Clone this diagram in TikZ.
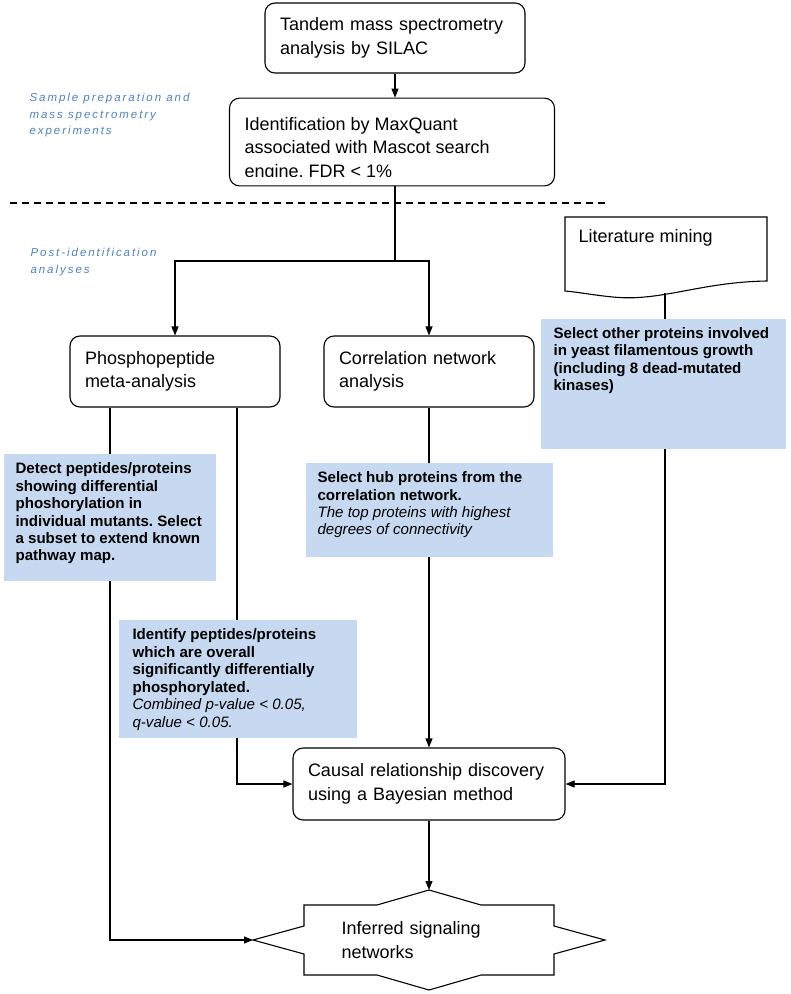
\documentclass[tikz,border=0pt]{standalone}
\usepackage{fontspec}
\setmainfont{Liberation Sans}
\usetikzlibrary{arrows.meta, calc}
\definecolor{BoxBlue}{HTML}{C6D9F1}
\definecolor{TagBlue}{HTML}{4F81BD}
\newcommand{\stepfnt}{\fontsize{18}{23.5}\selectfont}
\newcommand{\notefnt}{\fontsize{15.1}{17.5}\selectfont}
\newcommand{\tagfnt}{\fontsize{11.5}{16.5}\selectfont\itshape\addfontfeature{LetterSpace=17}}
\frenchspacing

\begin{document}
\begin{tikzpicture}[x=1pt, y=-1pt, line width=1.1pt,
    stepbox/.style={draw, rounded corners=10pt, inner xsep=15pt, align=left, font=\stepfnt},
    notebox/.style={fill=BoxBlue, anchor=north west, inner xsep=13pt, inner ysep=9pt, font=\notefnt},
    sectag/.style={text=TagBlue, font=\tagfnt, align=left, anchor=north west, inner sep=0pt},
    link/.style={-{Triangle[length=9pt, width=7pt]}}]
\useasboundingbox (0,0) rectangle (791,994);

% experiment part
\node[stepbox, text width=230pt, minimum height=70pt] (tandem) at (395,38) {Tandem mass spectrometry\\analysis by SILAC};
\node[stepbox, inner ysep=5pt] (ident) at (392,142) {\parbox[c][74pt][b]{295pt}{\raggedright Identification by MaxQuant\\associated with Mascot search\\engine. FDR < 1\%}};
% text cut by the box frame
\fill[white] ($(ident.south west)+(12,-1.2)$) rectangle ($(ident.south east)+(-12,-9.5)$);
\node[sectag] (prep) at (29,93) {Sample preparation and\\mass spectrometry\\experiments};
\draw[dash pattern=on 7pt off 5pt] (10,203) -- (608,203);
\node[sectag] (post) at (30,248) {Post-identification\\analyses};

% analyses
\node[stepbox, text width=180pt, minimum height=71pt] (pho) at (175,371.5) {Phosphopeptide\\meta-analysis};
\node[stepbox, text width=180pt, minimum height=71pt] (corr) at (429,371.5) {Correlation network\\analysis};
\node[stepbox, text width=242pt, minimum height=72pt] (causal) at (429,784) {Causal relationship discovery\\using a Bayesian method};

% literature document
\draw (565,217) -- (767,217) -- (767,281) .. controls (700,282) and (660,302) .. (613,297) .. controls (592,295) and (578,292) .. (565,291) -- cycle;
\node[font=\stepfnt, anchor=base west, inner sep=0pt] (lit) at (578,242) {Literature mining};
\coordinate (litbot) at (665,293);

% result
\node[font=\stepfnt, text width=175pt, align=left] (inferred) at (429,940) {Inferred signaling\\networks};
\draw[shift={(inferred.center)}] (-125,-35) -- (-52,-35) -- (0,-50) -- (52,-35) -- (125,-35) -- (125,-14) -- (176,0) -- (125,14) -- (125,35) -- (52,35) -- (0,50) -- (-52,35) -- (-125,35) -- (-125,14) -- (-176,0) -- (-125,-14) -- cycle;
\coordinate (inftop) at ($(inferred)+(0,-50)$);
\coordinate (infwest) at ($(inferred)+(-176,0)$);

% connectors
\coordinate (split) at (395,261);
\draw[link] (tandem.south) -- (tandem.south |- ident.north);
\draw (tandem.south |- ident.south) -- (split);
\draw[link] (split) -| (pho.north);
\draw[link] (split) -| (corr.north);
\draw[link] ([xshift=-65pt]pho.south) |- (infwest);
\draw[link] ([xshift=62pt]pho.south) |- (causal.west);
\draw[link] (corr.south) -- (causal.north);
\draw[link] (litbot) |- (causal.east);
\draw[link] (causal.south) -- (inftop);

% notes on top of the lines
\node[notebox] (sellit) at (540,318) {\parbox[t][112pt][t]{219pt}{\raggedright\textbf{Select other proteins involved\\in yeast filamentous growth\\(including 8 dead-mutated\\kinases)}}};
\node[notebox, inner xsep=12pt] (detect) at (3,453) {\parbox[t][109pt][t]{188pt}{\raggedright\textbf{Detect peptides/proteins\\showing differential\\phoshorylation in\\individual mutants. Select\\a subset to extend known\\pathway map.}}};
\node[notebox, inner xsep=12pt] (hubs) at (305,462) {\parbox[t][76pt][t]{223pt}{\raggedright\textbf{Select hub proteins from the\\correlation network.}\\\textit{The top proteins with highest\\degrees of connectivity}}};
\node[notebox, inner xsep=14pt] (overall) at (118,619) {\parbox[t][100pt][t]{210pt}{\raggedright\textbf{Identify peptides/proteins\\which are overall\\significantly differentially\\phosphorylated.}\\\textit{Combined p-value < 0.05,\\q-value < 0.05.}}};
\end{tikzpicture}
\end{document}
